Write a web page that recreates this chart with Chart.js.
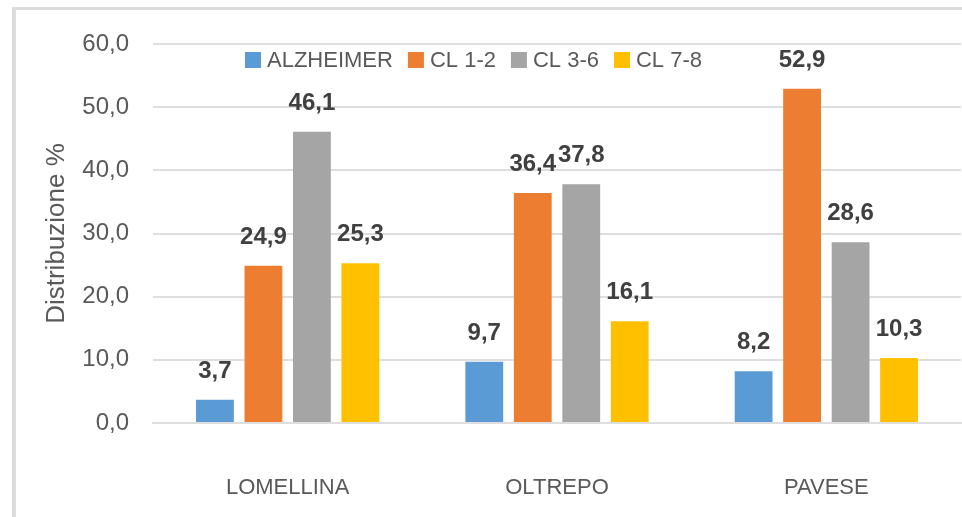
<!DOCTYPE html>
<html>
<head>
<meta charset="utf-8">
<script src="https://cdn.jsdelivr.net/npm/chart.js@4/dist/chart.umd.min.js"></script>
<style>
  body { margin: 0; background: #ffffff; }
</style>
</head>
<body>
<canvas id="distChart" width="962" height="517"></canvas>
<script>
const categories = ["LOMELLINA", "OLTREPO", "PAVESE"];
const seriesNames = ["ALZHEIMER", "CL 1-2", "CL 3-6", "CL 7-8"];
const alzheimer = [3.7, 9.7, 8.2];
const cl12 = [24.9, 36.4, 52.9];
const cl36 = [46.1, 37.8, 28.6];
const cl78 = [25.3, 16.1, 10.3];
const yTicks = [0, 10, 20, 30, 40, 50, 60];

const colors = ["#5B9BD5", "#ED7D31", "#A5A5A5", "#FFC000"];
const textColor = "#595959";
const fontFam = "'Liberation Sans', Arial, sans-serif";

function fmt(v) {
    return v.toFixed(1).replace(".", ",");
}

// frame + white background
const framePlugin = {
    id: "frame",
    beforeDraw(chart) {
        const c = chart.ctx;
        c.save();
        c.fillStyle = "#ffffff";
        c.fillRect(0, 0, chart.width, chart.height);
        c.fillStyle = "#dcdcdc";
        c.fillRect(12, 7, chart.width - 12, 3);
        c.fillRect(12, 7, 4, chart.height - 7);
        c.restore();
    }
};

// value labels above bars
const valueLabels = {
    id: "valueLabels",
    afterDatasetsDraw(chart) {
        const c = chart.ctx;
        c.save();
        c.font = "bold 24px " + fontFam;
        c.fillStyle = "#404040";
        c.textAlign = "center";
        c.textBaseline = "alphabetic";
        chart.data.datasets.forEach((ds, i) => {
            chart.getDatasetMeta(i).data.forEach((bar, j) => {
                c.fillText(fmt(ds.data[j]), bar.x, bar.y - 22);
            });
        });
        c.restore();
    }
};

// legend drawn inside the plot, like the excel one
const innerLegend = {
    id: "innerLegend",
    afterDraw(chart) {
        const c = chart.ctx;
        c.save();
        c.font = "22px " + fontFam;
        c.textBaseline = "middle";
        c.textAlign = "left";
        let x = 245;
        const y = 60;
        chart.data.datasets.forEach((ds) => {
            c.fillStyle = ds.backgroundColor;
            c.fillRect(x, y - 8, 16, 16);
            x += 22;
            c.fillStyle = textColor;
            c.fillText(ds.label, x, y + 1);
            x += c.measureText(ds.label).width + 15;
        });
        c.restore();
    }
};

const values = [alzheimer, cl12, cl36, cl78];

new Chart(document.getElementById("distChart"), {
    type: "bar",
    data: {
        labels: categories,
        datasets: seriesNames.map((name, i) => ({
            label: name,
            data: values[i],
            backgroundColor: colors[i],
            categoryPercentage: 0.72,
            barPercentage: 0.78
        }))
    },
    options: {
        responsive: false,
        animation: false,
        layout: { padding: { top: 44, right: 1, left: 0, bottom: 0 } },
        plugins: {
            legend: { display: false },
            tooltip: { enabled: false }
        },
        scales: {
            x: {
                grid: { display: false, drawTicks: false },
                border: { color: "#dedede", width: 2 },
                ticks: {
                    color: textColor,
                    font: { family: fontFam, size: 22 },
                    padding: 52
                },
                afterFit(scale) { scale.height = 94; }
            },
            y: {
                min: 0,
                max: 60,
                afterBuildTicks(scale) {
                    scale.ticks = yTicks.map(v => ({ value: v }));
                },
                grid: { color: "#dedede", lineWidth: 2, drawTicks: false },
                border: { display: false },
                ticks: {
                    color: textColor,
                    font: { family: fontFam, size: 24 },
                    padding: 24,
                    callback: v => fmt(v)
                },
                title: {
                    display: true,
                    text: "Distribuzione %",
                    color: textColor,
                    font: { family: fontFam, size: 26 },
                    padding: { top: 41, bottom: 0 }
                },
                afterFit(scale) { scale.width = 153; }
            }
        }
    },
    plugins: [framePlugin, valueLabels, innerLegend]
});
</script>
</body>
</html>
